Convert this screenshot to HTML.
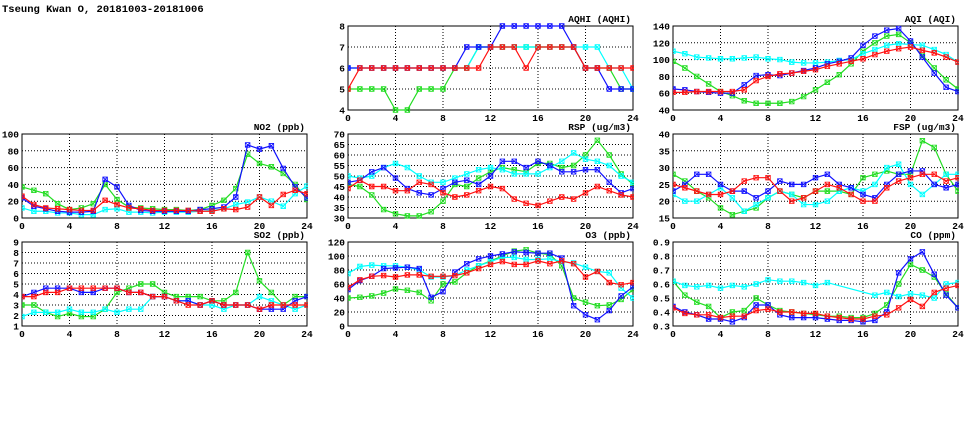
<!DOCTYPE html>
<html><head><meta charset="utf-8"><style>
body{margin:0;background:#fff;width:975px;height:447px;overflow:hidden}
svg{display:block;font-family:"Liberation Mono","DejaVu Sans Mono",monospace}
</style></head><body>
<svg id="c" width="975" height="447">
<text x="2" y="12" font-size="10.5" font-weight="bold">Tseung Kwan O, 20181003-20181006</text>
</svg>
<script>
const hours=[0,1,2,3,4,5,6,7,8,9,10,11,12,13,14,15,16,17,18,19,20,21,22,23,24];
const seriesColors=["#22dd22","#00ffff","#1111ff","#ff1111"];
const xTicks=[0,4,8,12,16,20,24];

const aqhiGreen=[5,5,5,5,4,4,5,5,5,6,6,7,7,7,7,7,7,7,7,7,6,6,6,5,5];
const aqhiCyan=[6,6,6,6,6,6,6,6,6,6,6,7,7,7,7,7,7,7,7,7,7,7,6,6,5];
const aqhiBlue=[6,6,6,6,6,6,6,6,6,6,7,7,7,8,8,8,8,8,8,7,6,6,5,5,5];
const aqhiRed=[5,6,6,6,6,6,6,6,6,6,6,6,7,7,7,6,7,7,7,7,6,6,6,6,6];
const aqhiTicks=[4,5,6,7,8];

const aqiGreen=[98,90,80,71,62,57,51,48,48,48,50,56,64,73,82,95,110,120,128,130,120,105,90,76,65];
const aqiCyan=[110,107,103,102,101,101,102,103,101,100,97,96,96,97,99,100,107,112,117,119,118,117,112,106,97];
const aqiBlue=[65,64,62,61,60,60,70,81,82,81,84,87,90,95,98,102,117,128,135,137,122,103,84,67,62];
const aqiRed=[61,61,62,62,62,62,64,75,80,83,84,86,88,92,95,98,101,106,110,113,115,111,108,103,97];
const aqiTicks=[40,60,80,100,120,140];

const no2Green=[37,33,29,17,10,12,17,40,22,13,12,11,10,10,9,10,15,21,35,76,65,61,53,40,22];
const no2Cyan=[12,8,8,6,6,4,4,10,11,7,7,6,7,7,7,8,9,11,16,19,25,20,14,29,38];
const no2Blue=[24,14,11,8,7,7,8,46,37,15,9,8,8,8,8,10,11,13,25,87,82,86,59,37,24];
const no2Red=[26,16,12,11,10,9,9,21,16,12,11,9,9,9,9,8,8,11,10,13,25,15,28,33,29];
const no2Ticks=[0,20,40,60,80,100];

const rspGreen=[46,45,41,34,32,31,31,33,38,46,45,49,52,54,53,52,56,56,54,55,60,67,60,51,46];
const rspCyan=[50,49,50,54,56,54,50,47,47,49,51,53,54,53,51,51,51,54,57,61,58,57,55,50,47];
const rspBlue=[47,48,52,54,49,44,42,41,44,47,48,46,50,57,57,54,57,55,52,52,53,53,47,42,44];
const rspRed=[44,48,45,45,43,43,47,46,42,40,41,43,45,44,39,37,36,38,40,39,42,45,43,41,40];
const rspTicks=[30,35,40,45,50,55,60,65,70];

const fspGreen=[28,26,23,21,18,16,17,18,21,23,22,21,23,23,23,22,27,28,29,28,28,38,36,28,23];
const fspCyan=[22,20,20,22,24,21,17,19,21,23,22,19,19,20,23,24,23,25,30,31,25,22,25,28,28];
const fspBlue=[23,25,28,28,25,23,23,21,23,26,25,25,27,28,25,24,22,21,25,28,29,29,25,24,25];
const fspRed=[25,24,23,22,22,23,26,27,27,23,20,21,23,25,24,22,20,20,24,26,27,28,28,26,27];
const fspTicks=[15,20,25,30,35,40];

const so2Green=[3,3,2.3,1.9,2.2,1.9,1.9,2.6,4.2,4.6,5,5,4.2,3.8,3.8,3.8,3.4,3.4,4.2,8,5.3,4.2,3,3.8,3.8];
const so2Cyan=[1.9,2.3,2.3,2.3,2.6,2.3,2.3,2.6,2.3,2.6,2.6,3.8,3.8,3.4,3.4,3,3,2.6,3,3,3.8,3.4,3,2.6,3];
const so2Blue=[3.8,4.2,4.6,4.6,4.6,4.2,4.2,4.6,4.6,4.2,4.2,3.8,3.8,3.4,3.4,3,3.4,3,3,3,2.6,2.6,2.6,3.4,3.8];
const so2Red=[3.8,3.8,4.2,4.2,4.6,4.6,4.6,4.6,4.6,4.2,4.2,3.8,3.8,3.4,3,3,3.4,3,3,3,2.6,3,3,3,3];
const so2Ticks=[1,2,3,4,5,6,7,8,9];

const o3Green=[40,41,43,47,53,51,48,36,60,63,76,86,93,100,107,109,104,102,86,40,34,29,30,38,52];
const o3Cyan=[75,85,87,86,86,84,80,70,70,72,80,86,92,98,98,95,95,96,92,90,84,78,76,54,40];
const o3Blue=[52,65,71,82,83,84,82,41,49,77,89,96,100,103,106,105,104,104,97,29,16,9,22,43,56];
const o3Red=[55,66,71,72,70,73,73,71,71,72,76,82,88,92,88,88,93,89,93,89,70,78,62,59,62];
const o3Ticks=[0,20,40,60,80,100,120];

const coGreen=[.62,.52,.47,.44,.36,.40,.41,.50,.45,.41,.40,.39,.38,.37,.37,.36,.36,.39,.45,.60,.74,.70,.65,.53,.43];
const coCyan=[.62,.59,.58,.59,.57,.59,.58,.60,.63,.62,.62,.61,.59,.61,null,null,null,.52,.54,.51,.53,.52,.50,.60,.61];
const coBlue=[.44,.40,.38,.35,.35,.33,.36,.45,.45,.38,.36,.36,.36,.35,.34,.34,.33,.34,.40,.68,.78,.83,.67,.52,.43];
const coRed=[.43,.39,.38,.38,.36,.37,.37,.41,.42,.40,.40,.39,.39,.37,.36,.35,.35,.37,.38,.43,.49,.44,.54,.57,.59];
const coTicks=[0.3,0.4,0.5,0.6,0.7,0.8,0.9];

const panels=[
 {name:"aqhi",title:"AQHI (AQHI)",col:1,row:0,ticks:aqhiTicks,s:[aqhiGreen,aqhiCyan,aqhiBlue,aqhiRed],dec:0},
 {name:"aqi",title:"AQI (AQI)",col:2,row:0,ticks:aqiTicks,s:[aqiGreen,aqiCyan,aqiBlue,aqiRed],dec:0},
 {name:"no2",title:"NO2 (ppb)",col:0,row:1,ticks:no2Ticks,s:[no2Green,no2Cyan,no2Blue,no2Red],dec:0},
 {name:"rsp",title:"RSP (ug/m3)",col:1,row:1,ticks:rspTicks,s:[rspGreen,rspCyan,rspBlue,rspRed],dec:0},
 {name:"fsp",title:"FSP (ug/m3)",col:2,row:1,ticks:fspTicks,s:[fspGreen,fspCyan,fspBlue,fspRed],dec:0},
 {name:"so2",title:"SO2 (ppb)",col:0,row:2,ticks:so2Ticks,s:[so2Green,so2Cyan,so2Blue,so2Red],dec:0},
 {name:"o3",title:"O3 (ppb)",col:1,row:2,ticks:o3Ticks,s:[o3Green,o3Cyan,o3Blue,o3Red],dec:0},
 {name:"co",title:"CO (ppm)",col:2,row:2,ticks:coTicks,s:[coGreen,coCyan,coBlue,coRed],dec:1}
];
const colX=[22,348,673], rowY=[26,134,242], PW=285, PH=84;
const svg=document.getElementById('c');
const NS="http://www.w3.org/2000/svg";
function mk(tag,attrs,parent){const e=document.createElementNS(NS,tag);for(const k in attrs)e.setAttribute(k,attrs[k]);(parent||svg).appendChild(e);return e;}

panels.forEach(p=>{
  const x0=colX[p.col], y0=rowY[p.row];
  const ymin=p.ticks[0], ymax=p.ticks[p.ticks.length-1];
  const X=h=>x0+h/24*PW;
  const Y=v=>y0+PH-(v-ymin)/(ymax-ymin)*PH;
  const g=mk('g',{});
  
  
  p.ticks.forEach((t,i)=>{
    if(i>0&&i<p.ticks.length-1){const l=mk('line',{x1:x0,x2:x0+PW,y1:Y(t),y2:Y(t),stroke:'#000','stroke-width':1,'stroke-dasharray':'1,2'},g);
      }
    const tx=mk('text',{x:x0-3,y:Y(t)+3.5,'font-size':9.5,'font-weight':'bold','text-anchor':'end'},g);
    tx.textContent=p.dec?t.toFixed(1):t;
    
  });
  xTicks.forEach((t,i)=>{
    if(i>0&&i<xTicks.length-1){const l=mk('line',{x1:X(t),x2:X(t),y1:y0,y2:y0+PH,stroke:'#000','stroke-width':1,'stroke-dasharray':'1,2'},g);
      }
    const tx=mk('text',{x:X(t),y:y0+PH+11,'font-size':9.5,'font-weight':'bold','text-anchor':'middle'},g);
    tx.textContent=t;
    
  });
  const fr=mk('rect',{x:x0,y:y0,width:PW,height:PH,fill:'none',stroke:'#000','stroke-width':1},g);
  
  const tt=mk('text',{x:x0+PW-2,y:y0-4,'font-size':9.5,'font-weight':'bold','text-anchor':'end'},g);
  tt.textContent=p.title;
  
  const cp='clip-'+p.name;
  const cl=mk('clipPath',{id:cp},g);mk('rect',{x:x0,y:y0-4,width:PW+1,height:PH+8},cl);
  p.s.forEach((vals,si)=>{
    const col=seriesColors[si];
    const pts=[];vals.forEach((v,i)=>{if(v!==null)pts.push([X(hours[i]),Y(v)]);});
    const pl=mk('polyline',{points:pts.map(q=>q.join(',')).join(' '),fill:'none',stroke:col,'stroke-width':1.2,'clip-path':'url(#'+cp+')'},g);
    
    pts.forEach(q=>{
      const [px,py]=q, r=2.3;
      const m=mk('path',{d:`M${px-r},${py-r}h${2*r}v${2*r}h${-2*r}z M${px-r},${py-r}L${px+r},${py+r} M${px+r},${py-r}L${px-r},${py+r}`,fill:'none',stroke:col,'stroke-width':0.8,'clip-path':'url(#'+cp+')'},g);
      
      
    });
  });
});
</script>
</body></html>
